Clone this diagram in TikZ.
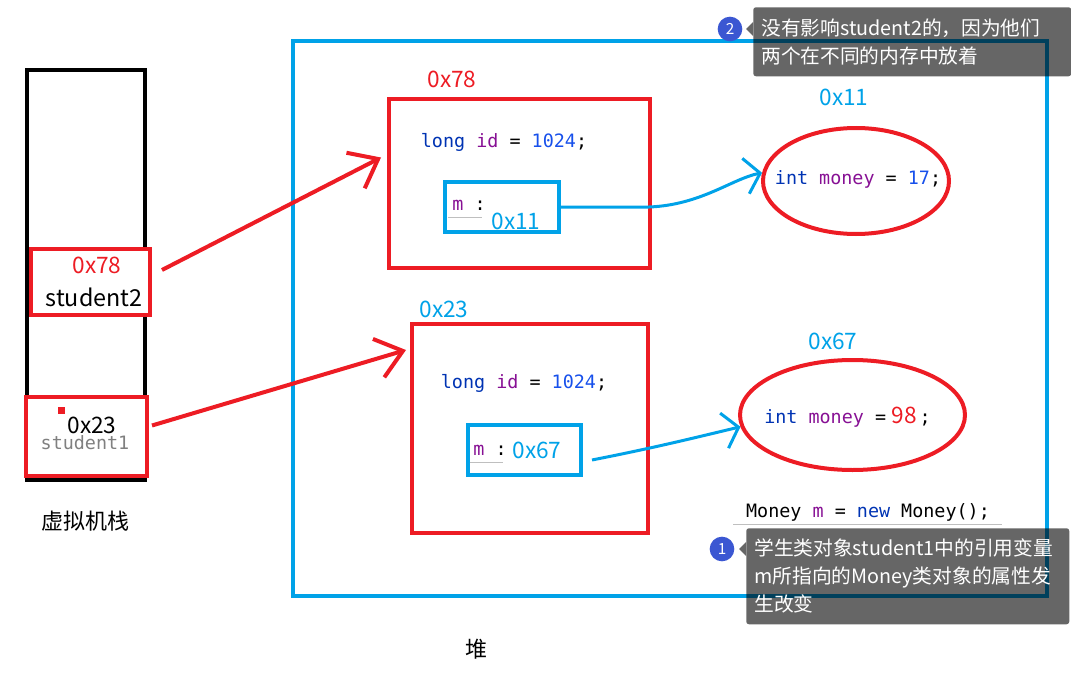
\documentclass[tikz,border=0pt]{standalone}
\usepackage{fontspec}
\setmainfont{Noto Sans CJK SC}
\setmonofont{DejaVu Sans Mono}
\usepackage{tikz}
\usetikzlibrary{
  arrows.meta,
  positioning,
  shapes.geometric,
  calc
}
\definecolor{memred}{RGB}{237,28,36}
\definecolor{memblue}{RGB}{0,162,232}
\definecolor{kwblue}{RGB}{0,51,179}
\definecolor{fldpurple}{RGB}{135,16,148}
\definecolor{numblue}{RGB}{23,80,235}
\definecolor{badgeblue}{RGB}{59,87,210}
\tikzset{
  stackbox/.style={draw=black, line width=3pt, inner sep=0pt},
  redbox/.style={draw=memred, line width=3pt, inner sep=0pt},
  refbox/.style={draw=memblue, line width=3pt, inner sep=0pt},
  heapbox/.style={draw=memblue, line width=3pt, inner sep=0pt},
  objellipse/.style={ellipse, draw=memred, line width=3pt, inner sep=0pt},
  addrtext/.style={inner sep=0pt, font=\fontsize{17}{20}\selectfont},
  codetext/.style={inner sep=0pt, font=\ttfamily\fontsize{13.8}{16}\selectfont},
  cntext/.style={inner sep=0pt, font=\fontsize{16.5}{20}\selectfont},
  tipbox/.style={fill=black, fill opacity=0.6, text opacity=1, text=white,
    rounded corners=2pt, anchor=north west, align=left,
    inner xsep=6pt, inner ysep=0pt, font=\fontsize{14.8}{21}\selectfont},
  tippointer/.style={fill=black, fill opacity=0.6},
  badge/.style={circle, fill=badgeblue, text=white, minimum size=18.5pt,
    inner sep=0pt, font=\fontsize{11.5}{12}\selectfont},
  redarr/.style={draw=memred, line width=3pt,
    -{Straight Barb[length=19pt, width=30pt]}},
  bluearr/.style={draw=memblue, line width=2.25pt,
    -{Straight Barb[length=11pt, width=27pt]}},
}
\newcommand{\ckw}[1]{\textcolor{kwblue}{#1}}
\newcommand{\cfld}[1]{\textcolor{fldpurple}{#1}}
\newcommand{\cnum}[1]{\textcolor{numblue}{#1}}

\begin{document}
\begin{tikzpicture}[x=0.75pt, y=-0.75pt]
  \useasboundingbox (0,0) rectangle (1071,674);

  % Stack
  \node[stackbox, minimum width=88.5pt, minimum height=307.5pt] (stack) at (86,275) {};
  \node[redbox, fill=white, minimum width=89.25pt, minimum height=49.5pt] (s2box) at (90.5,282) {};
  \node[addrtext, text=memred] (s2addr) at (97,265) {0x78};
  \node[inner sep=0pt, font=\fontsize{17.5}{20}\selectfont] (s2name) at (94,297) {student2};
  \node[redbox, fill=white, minimum width=90.75pt, minimum height=59.25pt] (s1box) at (86.5,436.5) {};
  \fill[memred] (58,407) rectangle (65,414);
  \node[codetext, text=black!50] (s1name) at (85,443) {student1};
  \node[addrtext] (s1addr) at (92,425) {0x23};
  \node[cntext] (stacklabel) at (85,521) {虚拟机栈};

  % Heap
  \node[heapbox, minimum width=565.5pt, minimum height=416.25pt] (heap) at (670,318.5) {};
  \node[cntext] (heaplabel) at (476,649) {堆};

  % Object of student2
  \node[redbox, minimum width=195.75pt, minimum height=126.75pt] (obj1) at (519.5,183.5) {};
  \node[addrtext, text=memred] (obj1addr) at (452,79) {0x78};
  \node[codetext] (obj1id) at (504,142) {\ckw{long} \cfld{id} = \cnum{1024};};
  \node[refbox, minimum width=85.5pt, minimum height=37.5pt] (m1) at (502,207) {};
  \node[codetext] (m1var) at (469,205) {\cfld{m} :};
  \draw[black!25, line width=0.75pt] (448,217) -- (482,217);
  \node[addrtext, text=memblue] (m1addr) at (516,221) {0x11};
  \node[objellipse, minimum width=139.5pt, minimum height=79.5pt] (money1) at (856,181) {};
  \node[addrtext, text=memblue] (money1addr) at (844,97) {0x11};
  \node[codetext] (money1val) at (858,179) {\ckw{int} \cfld{money} = \cnum{17};};

  % Object of student1
  \node[redbox, minimum width=177pt, minimum height=156.75pt] (obj2) at (530,428.5) {};
  \node[addrtext, text=memblue] (obj2addr) at (444,309) {0x23};
  \node[codetext] (obj2id) at (524,383) {\ckw{long} \cfld{id} = \cnum{1024};};
  \node[refbox, minimum width=84.75pt, minimum height=37.5pt] (m2) at (524.5,450) {};
  \node[codetext] (m2var) at (490,450) {\cfld{m} :};
  \draw[black!25, line width=0.75pt] (470,462) -- (503,462);
  \node[addrtext, text=memblue] (m2addr) at (537,450) {0x67};
  \node[objellipse, minimum width=168.75pt, minimum height=82.5pt] (money2) at (852.5,415) {};
  \node[addrtext, text=memblue] (money2addr) at (833,341) {0x67};
  \node[codetext, anchor=west] (money2val) at (764,417)
    {\ckw{int} \cfld{money} =\hspace{4pt}{\fontsize{17}{20}\selectfont\rmfamily\color{memred}98}\,;};

  % Declaration
  \node[codetext] (decl) at (868,512) {Money \cfld{m} = \ckw{new} Money();};
  \draw[black!25, line width=0.75pt] (733,524) -- (1002,524);

  % Arrows
  \draw[redarr] ($(s2box.east)+(10,-12)$) -- ($(obj1.west)+(-6,-26)$);
  \draw[redarr] ($(s1box.east)+(3,-11)$) -- ($(obj2.north west)+(-4,28)$);
  \draw[bluearr] (m1.east) -- ($(m1.east)+(88,0)$)
    .. controls ($(m1.east)+(140,-2)$) and ($(money1.175)+(-30,6)$) .. (money1.175);
  \draw[bluearr] ($(m2.east)+(9,10)$)
    .. controls ($(m2.east)+(70,-2)$) and ($(money2.186)+(-50,12)$) .. (money2.186);

  % Tips
  \node[tipbox, text width=226.5pt, minimum height=51.75pt] (tip2) at (753,7)
    {没有影响student2的，因为他们\\两个在不同的内存中放着};
  \fill[tippointer] (tip2.west |- 0,22) -- (746,29) -- (tip2.west |- 0,36) -- cycle;
  \node[badge] (badge2) at (730,29) {2};
  \node[tipbox, text width=230.25pt, minimum height=72pt] (tip1) at (746,528)
    {学生类对象student1中的引用变量\\m所指向的Money类对象的属性发\\生改变};
  \fill[tippointer] (tip1.west |- 0,542) -- (739,549) -- (tip1.west |- 0,556) -- cycle;
  \node[badge] (badge1) at (722,549) {1};
\end{tikzpicture}
\end{document}
